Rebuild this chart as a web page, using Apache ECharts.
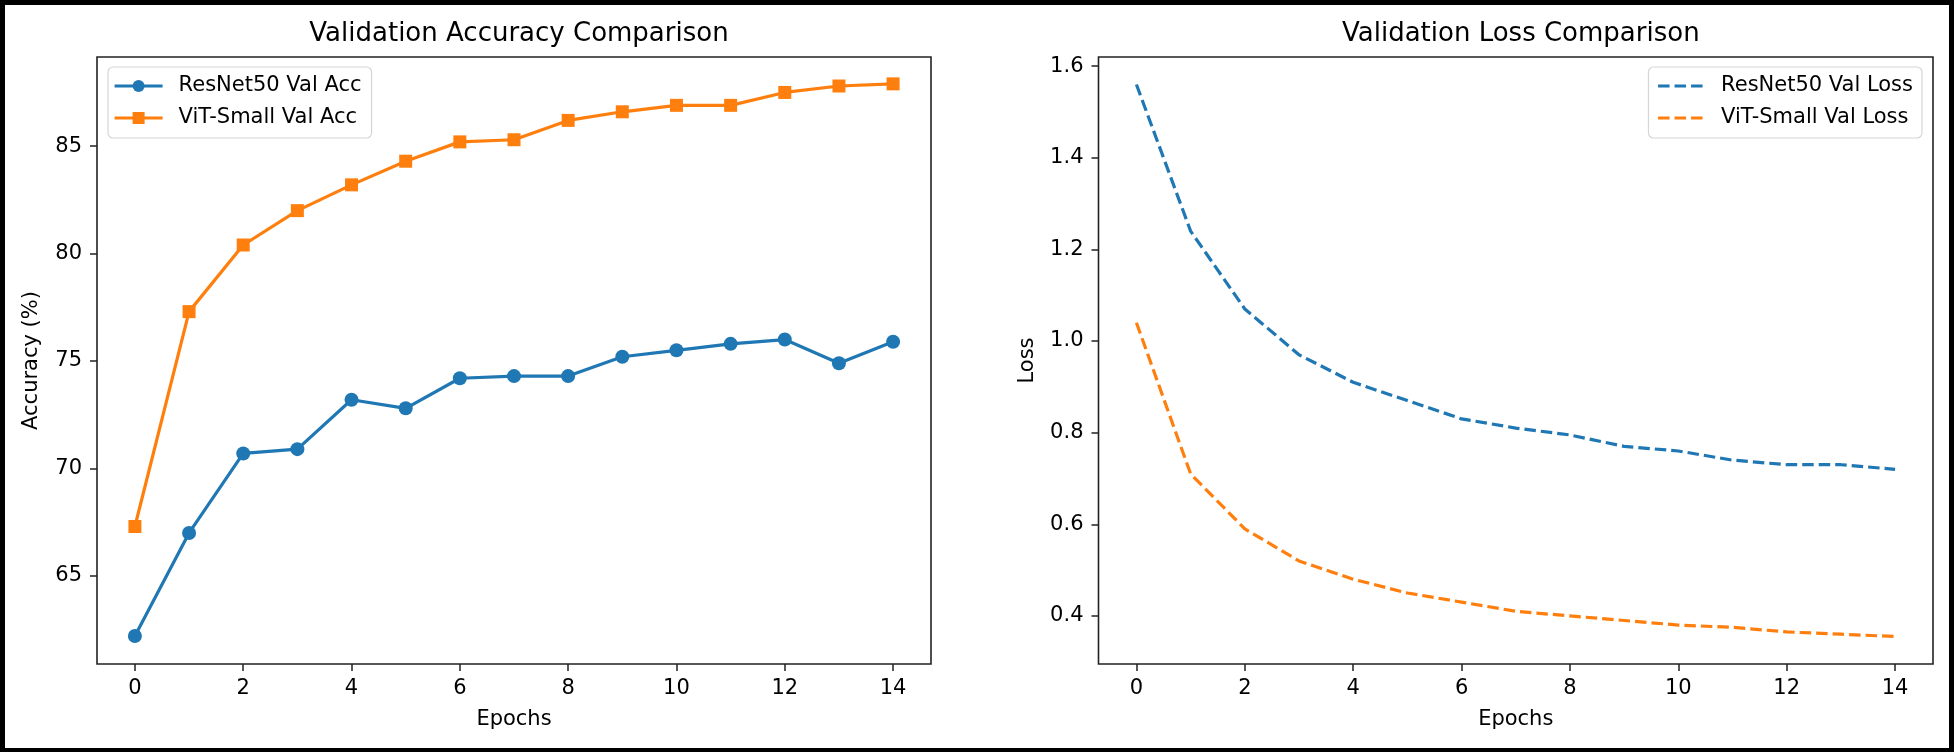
<!DOCTYPE html>
<html><head><meta charset="utf-8">
<script src="https://cdn.jsdelivr.net/npm/echarts@6/dist/echarts.min.js"></script>
<style>
html,body{margin:0;padding:0;background:#000;width:1954px;height:752px;overflow:hidden}
#c{position:absolute;left:5px;top:5px;width:1944px;height:743px;background:#fff}
</style>
</head><body><div id="c"></div>
<script>
const epochs = [0,1,2,3,4,5,6,7,8,9,10,11,12,13,14];
const resnetValAcc = [62.2,67.0,70.7,70.9,73.2,72.8,74.2,74.3,74.3,75.2,75.5,75.8,76.0,74.9,75.9];
const vitValAcc = [67.3,77.3,80.4,82.0,83.2,84.3,85.2,85.3,86.2,86.6,86.9,86.9,87.5,87.8,87.9];
const resnetValLoss = [1.56,1.24,1.07,0.97,0.91,0.87,0.83,0.81,0.795,0.77,0.76,0.74,0.73,0.73,0.72];
const vitValLoss = [1.04,0.71,0.59,0.52,0.48,0.45,0.43,0.41,0.40,0.39,0.38,0.375,0.365,0.36,0.355];
const xTicks = [0,2,4,6,8,10,12,14];
const accTicks = [65,70,75,80,85];
const lossTicks = [0.4,0.6,0.8,1.0,1.2,1.4,1.6];

const FONT = 'DejaVu Sans';
const BLUE = '#1f77b4', ORANGE = '#ff7f0e';
const pairs = ys => epochs.map((e,i)=>[e, ys[i]]);

const grids = [
  {left:92, top:52, width:834, height:607, show:true, borderColor:'#222', borderWidth:1.6, backgroundColor:'#fff'},
  {left:1093.5, top:52, width:834.5, height:607, show:true, borderColor:'#222', borderWidth:1.6, backgroundColor:'#fff'}
];
function xAxis(gi){
  return {type:'value', gridIndex:gi, min:-0.7, max:14.7,
    name:'Epochs', nameLocation:'middle', nameGap:45,
    nameTextStyle:{fontFamily:FONT, fontSize:21, color:'#000'},
    axisLine:{show:false, onZero:false}, splitLine:{show:false},
    axisTick:{show:true, length:7, lineStyle:{color:'#222', width:1.5}, customValues:xTicks},
    axisLabel:{fontFamily:FONT, fontSize:21, color:'#000', margin:14, customValues:xTicks, formatter:v=>String(v)}
  };
}
function yAxis(gi, min, max, ticks, name, gap, fmt){
  return {type:'value', gridIndex:gi, min:min, max:max,
    name:name, nameLocation:'middle', nameGap:gap, nameRotate:90,
    nameTextStyle:{fontFamily:FONT, fontSize:21, color:'#000'},
    axisLine:{show:false, onZero:false}, splitLine:{show:false},
    axisTick:{show:true, length:7, lineStyle:{color:'#222', width:1.5}, customValues:ticks},
    axisLabel:{fontFamily:FONT, fontSize:21, color:'#000', margin:15, customValues:ticks, formatter:fmt}
  };
}

const option = {
  animation:false,
  title:[
    {text:'Validation Accuracy Comparison', left:509, top:11, textAlign:'center',
     textStyle:{fontFamily:FONT, fontSize:26, fontWeight:'normal', color:'#000'}},
    {text:'Validation Loss Comparison', left:1510.8, top:11, textAlign:'center',
     textStyle:{fontFamily:FONT, fontSize:26, fontWeight:'normal', color:'#000'}}
  ],
  legend:[
    {data:['ResNet50 Val Acc','ViT-Small Val Acc'], orient:'vertical', left:103, top:62,
     itemWidth:48, itemHeight:15, itemGap:8, padding:[7,10,8,5],
     lineStyle:{width:3.2},
     borderColor:'#d6d6d6', borderWidth:1.2, borderRadius:5, backgroundColor:'rgba(255,255,255,0.8)',
     textStyle:{fontFamily:FONT, fontSize:21, color:'#000', lineHeight:24, padding:[0,0,0,11]}},
    {data:['ResNet50 Val Loss','ViT-Small Val Loss'], orient:'vertical', right:27, top:62,
     itemWidth:46, itemHeight:14, itemGap:8, padding:[7,9,8,8],
     itemStyle:{opacity:0}, lineStyle:{width:3.2},
     borderColor:'#d6d6d6', borderWidth:1.2, borderRadius:5, backgroundColor:'rgba(255,255,255,0.8)',
     textStyle:{fontFamily:FONT, fontSize:21, color:'#000', lineHeight:24, padding:[0,0,0,12]}}
  ],
  grid:grids,
  xAxis:[xAxis(0), xAxis(1)],
  yAxis:[
    yAxis(0, 60.9, 89.15, accTicks, 'Accuracy (%)', 55, v=>String(v)),
    yAxis(1, 0.295, 1.62, lossTicks, 'Loss', 60, v=>v.toFixed(1))
  ],
  series:[
    {name:'ResNet50 Val Acc', type:'line', xAxisIndex:0, yAxisIndex:0, data:pairs(resnetValAcc),
     symbol:'circle', symbolSize:14, color:BLUE, lineStyle:{width:3.2, color:BLUE}, itemStyle:{color:BLUE}},
    {name:'ViT-Small Val Acc', type:'line', xAxisIndex:0, yAxisIndex:0, data:pairs(vitValAcc),
     symbol:'rect', symbolSize:13, color:ORANGE, lineStyle:{width:3.2, color:ORANGE}, itemStyle:{color:ORANGE}},
    {name:'ResNet50 Val Loss', type:'line', xAxisIndex:1, yAxisIndex:1, data:pairs(resnetValLoss),
     symbol:'none', showSymbol:false, color:BLUE, lineStyle:{width:3.2, color:BLUE, type:[11.5,5]}},
    {name:'ViT-Small Val Loss', type:'line', xAxisIndex:1, yAxisIndex:1, data:pairs(vitValLoss),
     symbol:'none', showSymbol:false, color:ORANGE, lineStyle:{width:3.2, color:ORANGE, type:[11.5,5]}}
  ]
};
const chart = echarts.init(document.getElementById('c'));
chart.setOption(option);
</script></body></html>
